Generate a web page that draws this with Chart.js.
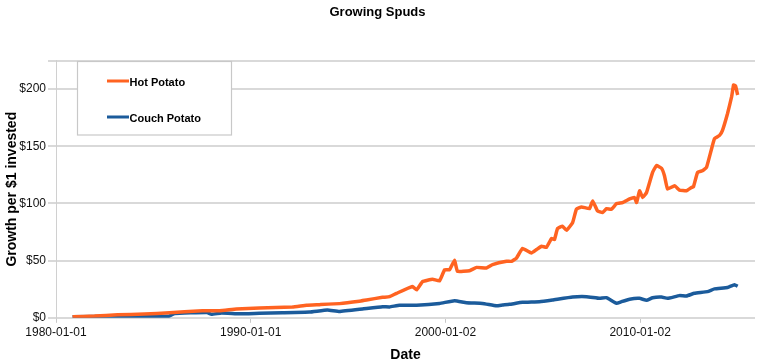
<!DOCTYPE html>
<html>
<head>
<meta charset="utf-8">
<script src="https://cdn.jsdelivr.net/npm/chart.js@4"></script>
<style>
html,body{margin:0;padding:0;background:#fff;}
canvas{display:block;}
</style>
</head>
<body>
<canvas id="c" width="759" height="364"></canvas>
<script>
const chartTitle = "Growing Spuds";
const xTitle = "Date";
const yTitle = "Growth per $1 invested";
const xTickValues = [1980, 1990, 2000, 2010];
const xTickLabels = ["1980-01-01", "1990-01-01", "2000-01-02", "2010-01-02"];
const yTickValues = [0, 50, 100, 150, 200, 225];

const hotLabel = "Hot Potato";
const hotYears = [1980.85,1981.98,1983.16,1984.55,1985.83,1986.6,1987.52,1988.40,1989.27,1990.45,1992.14,1992.87,1993.53,1994.56,1995.58,1995.95,1996.77,1997.13,1997.49,1998.31,1998.52,1998.83,1999.34,1999.70,1999.96,2000.21,2000.47,2000.62,2001.24,2001.60,2002.11,2002.42,2003.14,2003.40,2003.65,2003.96,2004.42,2004.68,2004.94,2005.19,2005.45,2005.60,2005.76,2006.01,2006.22,2006.53,2006.73,2006.99,2007.40,2007.56,2007.81,2008.07,2008.27,2008.53,2008.79,2009.10,2009.46,2009.71,2009.82,2009.97,2010.13,2010.33,2010.64,2010.84,2011.10,2011.25,2011.41,2011.77,2012.02,2012.38,2012.64,2012.74,2012.95,2013.20,2013.41,2013.67,2013.82,2014.08,2014.23,2014.49,2014.70,2014.80,2014.90,2015.01];
const hotValues = [1.0,1.5,2.6,3.3,4.4,5.2,6.2,6.2,7.7,8.5,9.4,11.0,11.5,12.4,14.5,15.6,17.9,18.5,21.4,27.3,24.4,31.7,33.8,32.4,42,42,50.3,40.6,41.2,44.1,43.5,46.5,49.4,49.4,52.3,60.6,56.7,59.7,62.6,61.7,69.4,68.5,78.2,80.2,76.5,83.2,95,97,95.5,102.3,93.5,92,95.5,95,99.9,100.8,104,105.2,100.8,111.1,105.2,109.6,127.2,133.2,130.8,124.3,112.6,115.5,111.7,111.1,114,114.6,127.2,128.7,131.6,147.9,156.7,159.6,164,178.7,193.4,203.7,202.8,194.9];

const couchLabel = "Couch Potato";
const couchYears = [1980.85,1983.2,1985.8,1986.09,1987.73,1987.99,1988.5,1989.43,1990.45,1991.63,1993.02,1993.94,1994.56,1995.74,1996.77,1997.13,1997.64,1998.52,1999.70,2000.47,2001.08,2001.90,2002.62,2002.93,2003.29,2003.96,2004.83,2005.50,2006.53,2007.25,2007.92,2008.27,2008.79,2009.04,2009.46,2009.97,2010.33,2010.64,2011.10,2011.41,2012.02,2012.38,2012.79,2013.46,2013.82,2014.49,2014.85,2015.01];
const couchValues = [1.0,1.2,1.4,3.8,4.7,3.0,4.2,3.5,4.0,4.4,5.0,6.8,5.5,7.7,9.7,9.5,11.0,11.0,12.6,15.0,13.2,12.6,10.6,11.2,11.8,13.5,14.1,15.6,18.2,18.5,17.0,17.6,12.6,14.1,16.3,17.0,15.3,17.6,18.2,17.0,19.4,19.1,21.4,22.9,25.3,26.5,29.0,27.6];

const hotColor = "#ff6321";
const couchColor = "#1b5b9b";
const FONT = "'Liberation Sans', Arial, sans-serif";

const toPoints = (xs, ys) => xs.map((x, i) => ({x: x, y: ys[i]}));

const legendBox = {
  id: 'legendBox',
  afterDraw(chart) {
    const ctx = chart.ctx;
    ctx.save();
    ctx.fillStyle = '#ffffff';
    ctx.fillRect(77, 61.5, 155, 74);
    ctx.strokeStyle = '#c8c8c8';
    ctx.lineWidth = 1.2;
    ctx.strokeRect(77.5, 61.5, 154, 73.5);
    const items = chart.data.datasets;
    const ys = [81, 117];
    items.forEach((ds, i) => {
      ctx.strokeStyle = ds.borderColor;
      ctx.lineWidth = 3;
      ctx.beginPath();
      ctx.moveTo(107, ys[i]);
      ctx.lineTo(129, ys[i]);
      ctx.stroke();
      ctx.fillStyle = '#000';
      ctx.font = "bold 11px " + FONT;
      ctx.textBaseline = 'middle';
      ctx.textAlign = 'left';
      ctx.fillText(ds.label, 129.5, ys[i] + 2);
    });
    ctx.restore();
  }
};

new Chart(document.getElementById('c'), {
  type: 'line',
  data: {
    datasets: [
      {label: hotLabel, data: toPoints(hotYears, hotValues), borderColor: hotColor, backgroundColor: hotColor, borderWidth: 3.5, pointRadius: 0, tension: 0.1, fill: false},
      {label: couchLabel, data: toPoints(couchYears, couchValues), borderColor: couchColor, backgroundColor: couchColor, borderWidth: 3.5, pointRadius: 0, tension: 0.1, fill: false}
    ]
  },
  options: {
    responsive: false,
    animation: false,
    devicePixelRatio: 1,
    layout: {padding: {left: 0, right: 4, top: 0, bottom: 0}},
    plugins: {
      legend: {display: false},
      tooltip: {enabled: false},
      title: {display: true, text: chartTitle, color: '#000', font: {family: FONT, size: 13, weight: 'bold'}, padding: {top: 5, bottom: 40}}
    },
    scales: {
      x: {
        type: 'linear',
        min: 1980,
        max: 2015.9,
        afterBuildTicks: (s) => { s.ticks = xTickValues.map(v => ({value: v})); },
        ticks: {
          autoSkip: false, maxRotation: 0, padding: 3, color: '#111',
          font: {family: FONT, size: 12},
          callback: (v, i) => xTickLabels[i]
        },
        grid: {drawOnChartArea: false, tickLength: 5, color: '#c8c8c8', lineWidth: 1},
        border: {display: false},
        title: {display: true, text: xTitle, color: '#000', font: {family: FONT, size: 14, weight: 'bold'}, padding: {top: 4, bottom: 0}}
      },
      y: {
        min: 0,
        max: 225,
        afterBuildTicks: (s) => { s.ticks = yTickValues.map(v => ({value: v})); },
        afterFit: (s) => { s.width = 56; },
        ticks: {
          padding: 2, color: '#111',
          font: {family: FONT, size: 12},
          callback: (v) => (v === 225 ? '' : '$' + v)
        },
        grid: {color: '#d9d9d9', lineWidth: 2, tickLength: 8},
        border: {display: true, color: '#d0d0d0', width: 1},
        title: {display: true, text: yTitle, color: '#000', font: {family: FONT, size: 14, weight: 'bold'}, padding: {top: 4, bottom: 0}}
      }
    }
  },
  plugins: [legendBox]
});
</script>
</body>
</html>
